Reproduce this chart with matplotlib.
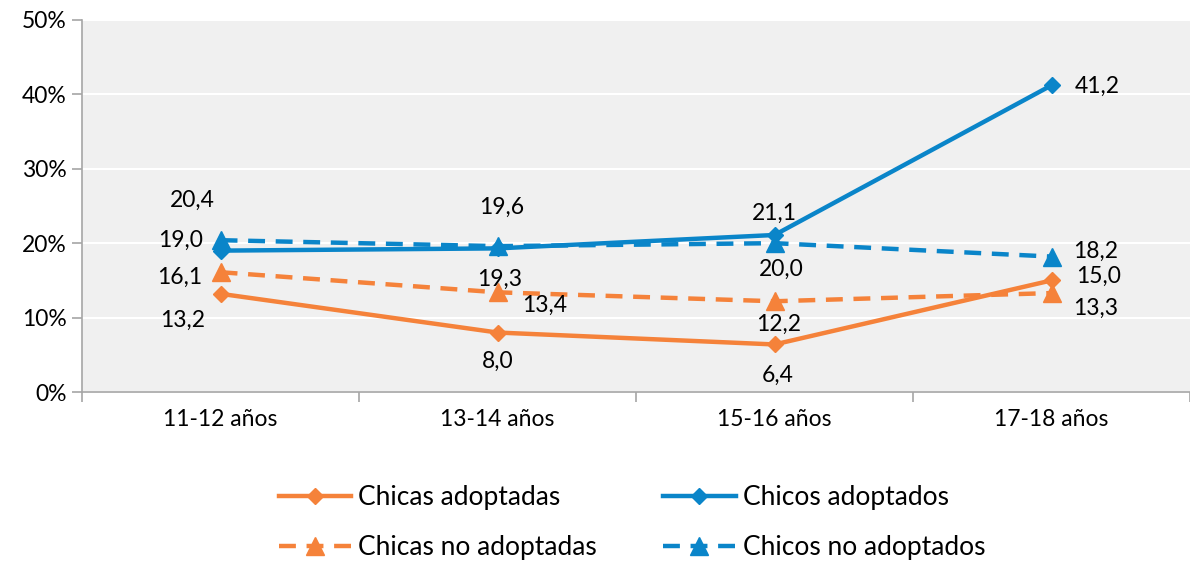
import matplotlib.pyplot as plt
import numpy as np

plt.rcParams['font.family'] = ['Lato', 'DejaVu Sans']

categories = ['11-12 años', '13-14 años', '15-16 años', '17-18 años']
chicas_adoptadas = [13.2, 8.0, 6.4, 15.0]
chicos_adoptados = [19.0, 19.3, 21.1, 41.2]
chicas_no_adoptadas = [16.1, 13.4, 12.2, 13.3]
chicos_no_adoptados = [20.4, 19.6, 20.0, 18.2]

ORANGE = '#F5823A'
BLUE = '#0A85C9'

# label offsets in pixels (dx, dy) per series
off_chicas_a = [(-38, -27), (0, -29), (3, -31), (47, 4)]
off_chicos_a = [(-40, 10), (2, -31), (0, 22), (46, -1)]
off_chicas_n = [(-41, -5), (47, -13), (4, -23), (44, -15)]
off_chicos_n = [(-28, 40), (4, 39), (7, -26), (44, 5)]

fig = plt.figure(figsize=(11.9, 5.65), dpi=100)
ax = fig.add_axes([0.069, 0.306, 0.931, 0.659])
ax.set_facecolor('#F0F0F0')

x = np.arange(len(categories))

series = [
    ('Chicas adoptadas', chicas_adoptadas, ORANGE, '-', 'D', 8, off_chicas_a),
    ('Chicas no adoptadas', chicas_no_adoptadas, ORANGE, (0, (3.8, 2.4)), '^', 12.5, off_chicas_n),
    ('Chicos adoptados', chicos_adoptados, BLUE, '-', 'D', 8, off_chicos_a),
    ('Chicos no adoptados', chicos_no_adoptados, BLUE, (0, (3.8, 2.4)), '^', 12.5, off_chicos_n),
]

handles = []
for name, vals, col, ls, mk, ms, offs in series:
    h, = ax.plot(x, vals, color=col, linestyle=ls, linewidth=3.2, marker=mk,
                 markersize=ms, label=name, zorder=3)
    handles.append(h)
    for xi, v, (dx, dy) in zip(x, vals, offs):
        ax.annotate(f'{v:.1f}'.replace('.', ','), (xi, v), xytext=(dx, dy),
                    textcoords='offset pixels', ha='center', va='center',
                    fontsize=16.5, color='black')

ax.set_xlim(-0.5, 3.5)
ax.set_ylim(0, 50)
ax.set_yticks(range(0, 51, 10))
ax.set_yticklabels([f'{t}%' for t in range(0, 51, 10)], fontsize=16.5)
ax.set_xticks(x)
ax.set_xticklabels(categories, fontsize=16.5)
ax.set_xticks(np.arange(-0.5, 4, 1), minor=True)
ax.tick_params(axis='x', which='major', length=0, pad=12)
ax.tick_params(axis='x', which='minor', length=7, color='#A6A6A6', width=1.2)
ax.tick_params(axis='y', length=7, color='#A6A6A6', width=1.2, pad=4)

ax.grid(axis='y', color='white', linewidth=1.5)
ax.set_axisbelow(True)
for s in ['top', 'right']:
    ax.spines[s].set_visible(False)
for s in ['left', 'bottom']:
    ax.spines[s].set_color('#A6A6A6')
    ax.spines[s].set_linewidth(1.2)

fig.legend(handles=handles, loc='center', bbox_to_anchor=(0.531, 0.075),
           bbox_transform=fig.transFigure, ncol=2, frameon=False, fontsize=19,
           handlelength=2.75, handletextpad=0.27, columnspacing=2.5, labelspacing=0.95)

fig.savefig('out.png', dpi=100)
